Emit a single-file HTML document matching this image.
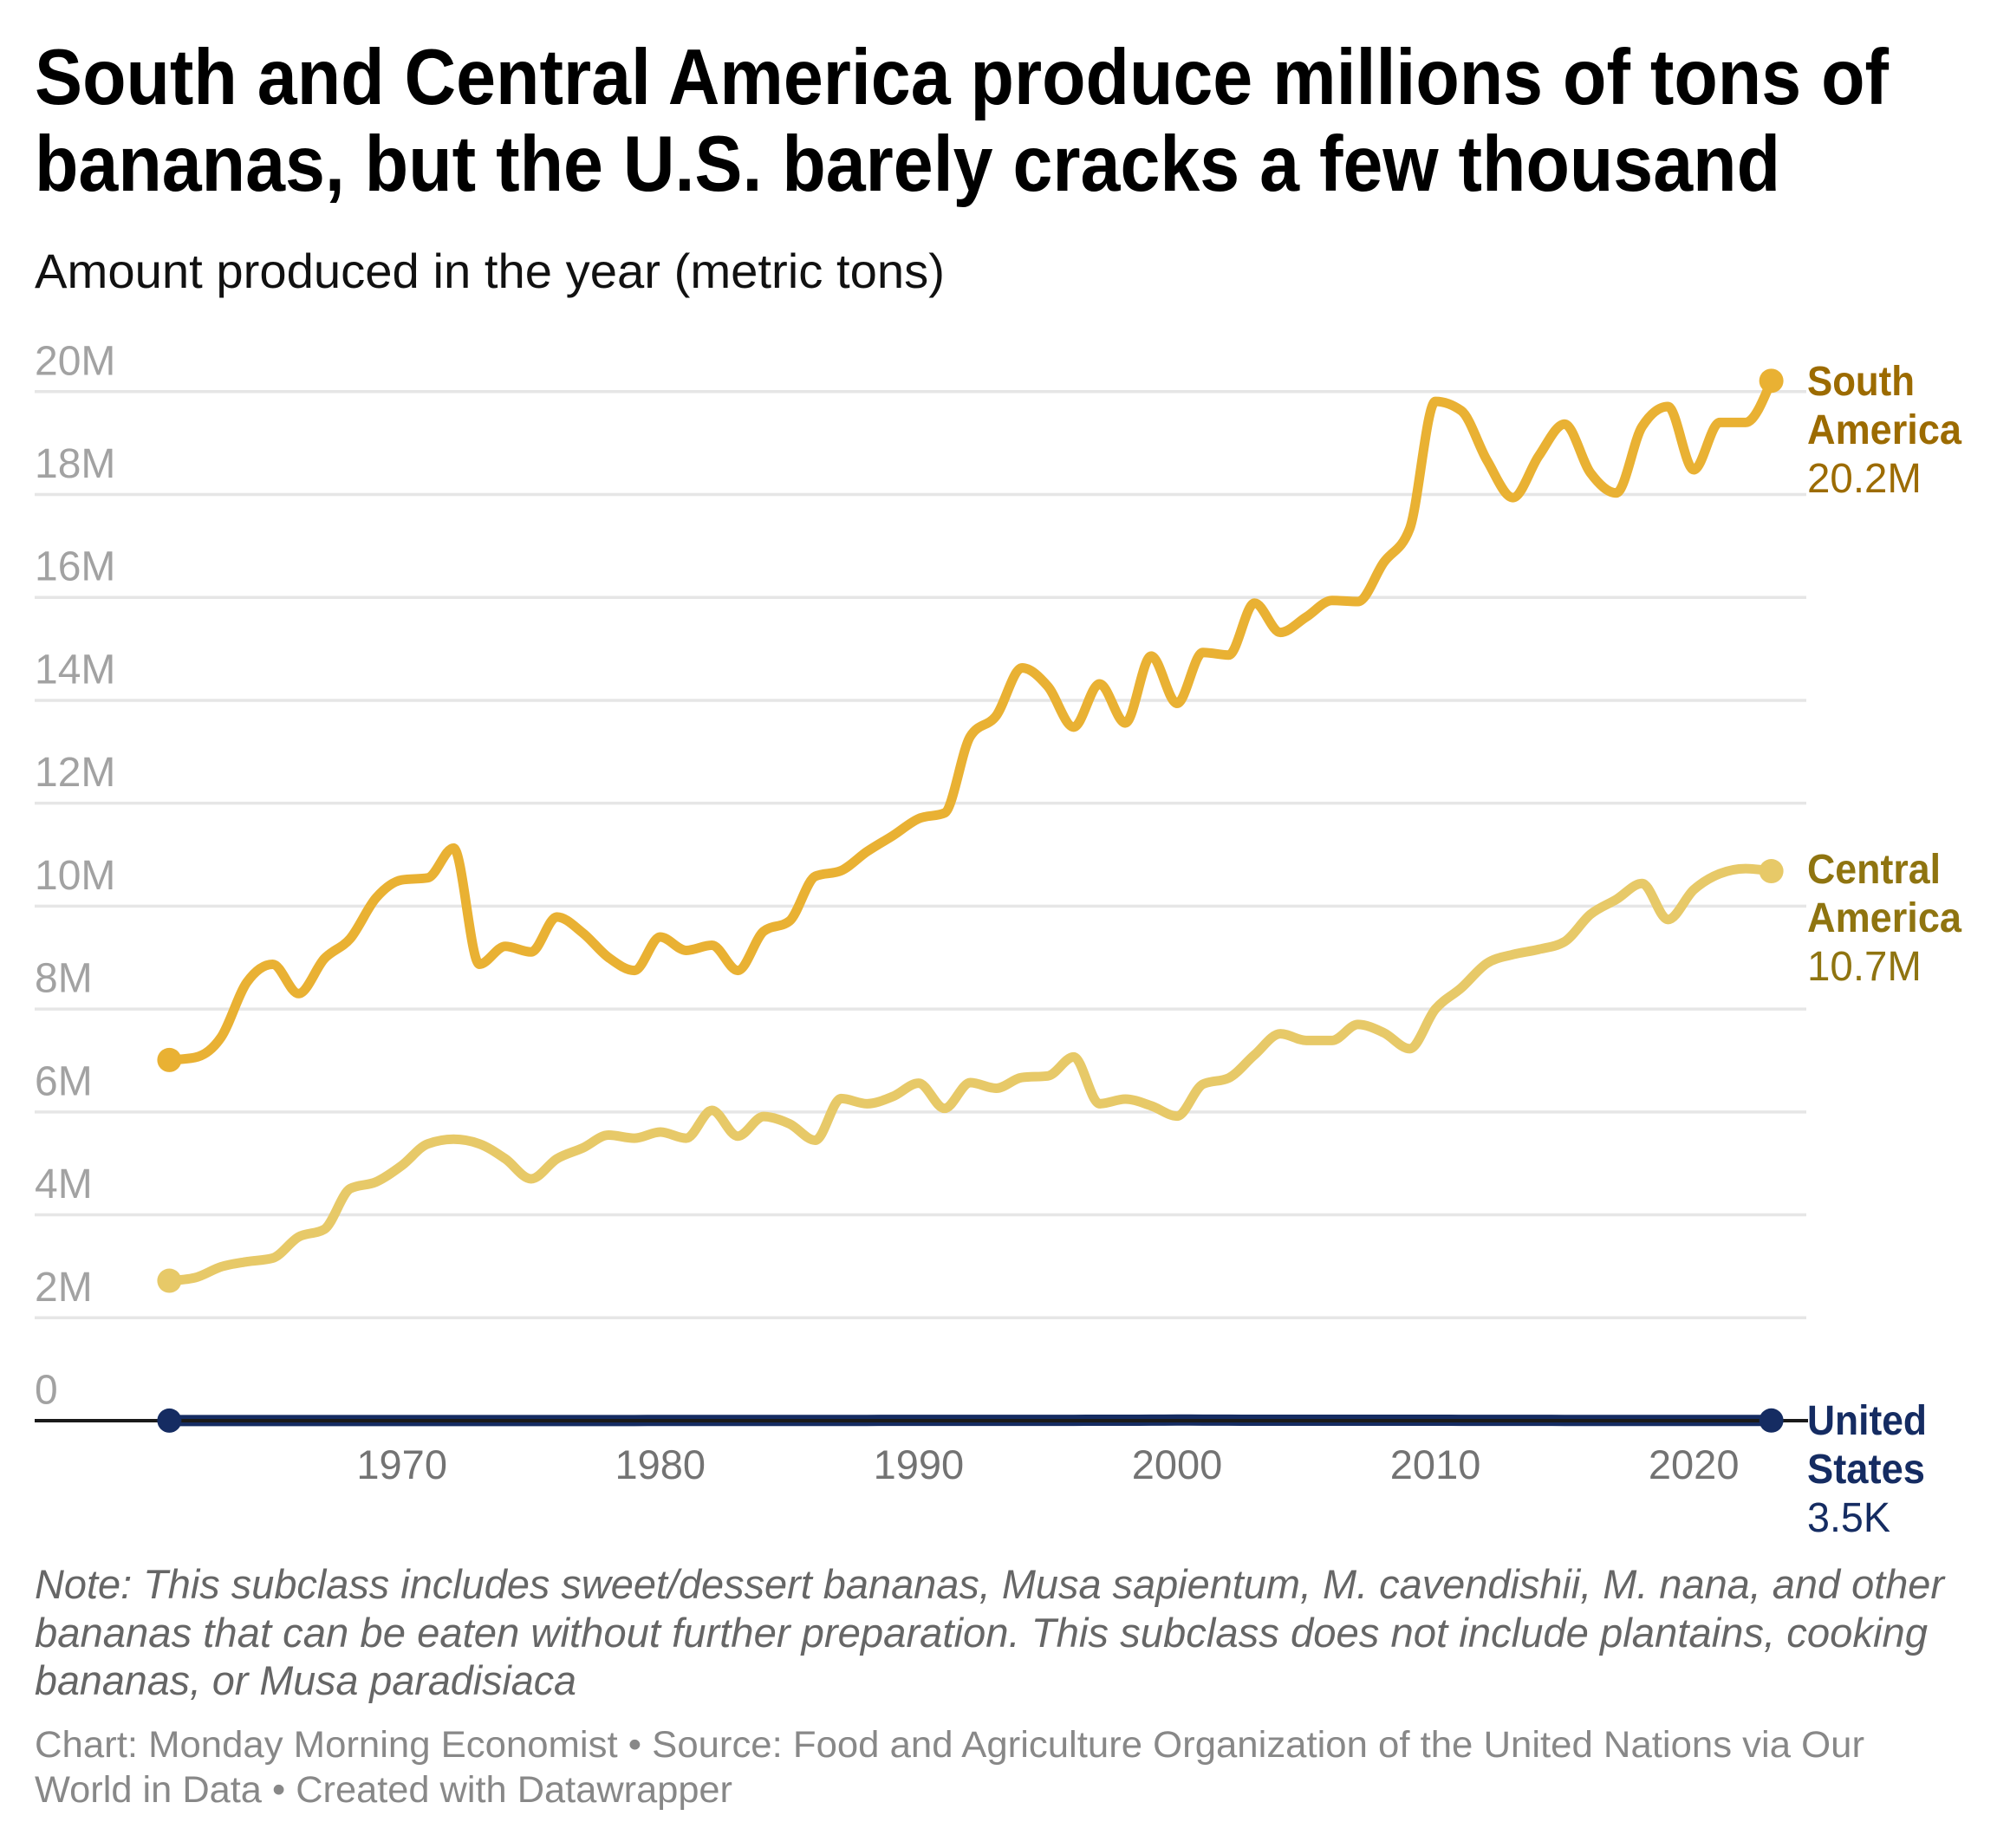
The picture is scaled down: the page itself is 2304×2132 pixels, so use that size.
<!DOCTYPE html>
<html lang="en">
<head>
<meta charset="utf-8">
<title>South and Central America banana production</title>
<style>
html,body{margin:0;padding:0;background:#fff;}
body{width:2304px;height:2132px;overflow:hidden;}
svg{display:block;font-family:"Liberation Sans",sans-serif;}
</style>
</head>
<body>
<svg id="chart" xmlns="http://www.w3.org/2000/svg" width="2304" height="2132" viewBox="0 0 2304 2132">
  <rect width="2304" height="2132" fill="#fff"/>
  <text x="40" y="120" font-size="91" font-weight="700" fill="#000" textLength="2139" lengthAdjust="spacingAndGlyphs">South and Central America produce millions of tons of</text>
  <text x="40" y="220" font-size="91" font-weight="700" fill="#000" textLength="2014" lengthAdjust="spacingAndGlyphs">bananas, but the U.S. barely cracks a few thousand</text>
  <text x="40" y="332" font-size="56" fill="#111" textLength="1050" lengthAdjust="spacingAndGlyphs">Amount produced in the year (metric tons)</text>

  <g id="grid"></g>
  <g id="yticks"></g>
  <g id="xticks"></g>
  <g id="lines"></g>
  <line x1="40" x2="2086" y1="1639" y2="1639" stroke="#1a1a1a" stroke-width="4"/>
  <g id="dots"></g>

  <g fill="#9c6b00" font-size="48">
    <text x="2085" y="456" font-weight="700" textLength="124" lengthAdjust="spacingAndGlyphs">South</text>
    <text x="2085" y="512" font-weight="700" textLength="178" lengthAdjust="spacingAndGlyphs">America</text>
    <text x="2085" y="568" textLength="132" lengthAdjust="spacingAndGlyphs">20.2M</text>
  </g>
  <g fill="#8f7410" font-size="48">
    <text x="2085" y="1019" font-weight="700" textLength="154" lengthAdjust="spacingAndGlyphs">Central</text>
    <text x="2085" y="1075" font-weight="700" textLength="178" lengthAdjust="spacingAndGlyphs">America</text>
    <text x="2085" y="1131" textLength="132" lengthAdjust="spacingAndGlyphs">10.7M</text>
  </g>
  <g fill="#152c62" font-size="48">
    <text x="2085" y="1655" font-weight="700" textLength="138" lengthAdjust="spacingAndGlyphs">United</text>
    <text x="2085" y="1711" font-weight="700" textLength="136" lengthAdjust="spacingAndGlyphs">States</text>
    <text x="2085" y="1767" textLength="96" lengthAdjust="spacingAndGlyphs">3.5K</text>
  </g>

  <g fill="#666" font-size="47" font-style="italic">
    <text x="40" y="1844" textLength="2203" lengthAdjust="spacingAndGlyphs">Note: This subclass includes sweet/dessert bananas, Musa sapientum, M. cavendishii, M. nana, and other</text>
    <text x="40" y="1900" textLength="2184" lengthAdjust="spacingAndGlyphs">bananas that can be eaten without further preparation. This subclass does not include plantains, cooking</text>
    <text x="40" y="1955" textLength="625" lengthAdjust="spacingAndGlyphs">bananas, or Musa paradisiaca</text>
  </g>
  <g fill="#888" font-size="43">
    <text x="40" y="2027" textLength="2111" lengthAdjust="spacingAndGlyphs">Chart: Monday Morning Economist • Source: Food and Agriculture Organization of the United Nations via Our</text>
    <text x="40" y="2079" textLength="805" lengthAdjust="spacingAndGlyphs">World in Data • Created with Datawrapper</text>
  </g>
</svg>
<script>
const years = [1961,1962,1963,1964,1965,1966,1967,1968,1969,1970,1971,1972,1973,1974,1975,1976,1977,1978,1979,1980,1981,1982,1983,1984,1985,1986,1987,1988,1989,1990,1991,1992,1993,1994,1995,1996,1997,1998,1999,2000,2001,2002,2003,2004,2005,2006,2007,2008,2009,2010,2011,2012,2013,2014,2015,2016,2017,2018,2019,2020,2021,2022,2023];
const southAmerica = [7.01,7.06,7.45,8.52,8.87,8.30,8.98,9.37,10.16,10.51,10.55,11.13,8.87,9.22,9.11,9.79,9.48,9.00,8.75,9.40,9.14,9.24,8.75,9.51,9.71,10.58,10.69,11.06,11.37,11.70,11.81,13.30,13.70,14.63,14.27,13.48,14.32,13.56,14.86,13.94,14.93,14.88,15.89,15.32,15.62,15.94,15.92,16.68,17.33,19.81,19.63,18.66,17.94,18.75,19.37,18.42,18.03,19.32,19.71,18.48,19.40,19.40,20.21];
const centralAmerica = [2.72,2.78,2.99,3.09,3.16,3.57,3.72,4.51,4.64,4.96,5.38,5.47,5.38,5.09,4.70,5.09,5.30,5.55,5.49,5.61,5.49,6.03,5.53,5.91,5.77,5.45,6.26,6.16,6.30,6.56,6.07,6.57,6.46,6.67,6.70,7.07,6.16,6.25,6.12,5.92,6.54,6.66,7.11,7.52,7.39,7.39,7.70,7.54,7.23,8.00,8.41,8.89,9.06,9.16,9.31,9.84,10.13,10.44,9.74,10.32,10.63,10.73,10.68];
const unitedStates = [0.002,0.002,0.002,0.003,0.003,0.003,0.002,0.002,0.002,0.002,0.002,0.002,0.002,0.003,0.003,0.003,0.003,0.003,0.003,0.004,0.004,0.004,0.005,0.005,0.005,0.005,0.005,0.005,0.006,0.006,0.006,0.006,0.006,0.006,0.006,0.007,0.008,0.009,0.010,0.012,0.011,0.010,0.009,0.009,0.008,0.008,0.009,0.009,0.008,0.008,0.007,0.007,0.006,0.006,0.005,0.005,0.005,0.004,0.004,0.004,0.004,0.004,0.0035];
const yTickValues = [0,2,4,6,8,10,12,14,16,18,20];
const yTickLabels = ["0","2M","4M","6M","8M","10M","12M","14M","16M","18M","20M"];
const xTickValues = [1970,1980,1990,2000,2010,2020];
const xTickLabels = ["1970","1980","1990","2000","2010","2020"];

const NS = "http://www.w3.org/2000/svg";
function xScale(year){ return 195.4 + (year - 1961) * 29.81; }
function yScale(v){ return 1639 - v * 59.36; }

function sign(x){ return x < 0 ? -1 : 1; }
function monotonePath(xs, ys){
  const n = xs.length, t = new Array(n), h = [], s = [];
  for (let i = 0; i < n - 1; i++){
    h[i] = xs[i+1] - xs[i];
    s[i] = (ys[i+1] - ys[i]) / h[i];
  }
  for (let i = 1; i < n - 1; i++){
    const p = (s[i-1] * h[i] + s[i] * h[i-1]) / (h[i-1] + h[i]);
    t[i] = (sign(s[i-1]) + sign(s[i])) * Math.min(Math.abs(s[i-1]), Math.abs(s[i]), 0.5 * Math.abs(p)) || 0;
  }
  t[0] = (3 * s[0] - t[1]) / 2;
  t[n-1] = (3 * s[n-2] - t[n-2]) / 2;
  let d = "M" + xs[0].toFixed(2) + "," + ys[0].toFixed(2);
  for (let i = 0; i < n - 1; i++){
    const dx = h[i] / 3;
    d += "C" + (xs[i] + dx).toFixed(2) + "," + (ys[i] + dx * t[i]).toFixed(2) + " " +
         (xs[i+1] - dx).toFixed(2) + "," + (ys[i+1] - dx * t[i+1]).toFixed(2) + " " +
         xs[i+1].toFixed(2) + "," + ys[i+1].toFixed(2);
  }
  return d;
}

const grid = document.getElementById("grid");
const yticks = document.getElementById("yticks");
yTickValues.forEach(function(v, i){
  if (v !== 0) {
    const ln = document.createElementNS(NS, "line");
    
    
    ln.setAttribute("x1", 40);
    ln.setAttribute("x2", 2084);
    ln.setAttribute("y1", yScale(v));
    ln.setAttribute("y2", yScale(v));
    ln.setAttribute("stroke", "#e6e6e6");
    ln.setAttribute("stroke-width", "3.5");
    grid.appendChild(ln);
  }
  const tx = document.createElementNS(NS, "text");
  
  
  tx.setAttribute("x", 40);
  tx.setAttribute("y", yScale(v) - 19.5);
  tx.setAttribute("font-size", "48");
  tx.setAttribute("fill", "#a2a2a2");
  tx.textContent = yTickLabels[i];
  yticks.appendChild(tx);
});

const xticks = document.getElementById("xticks");
xTickValues.forEach(function(v, i){
  const tx = document.createElementNS(NS, "text");
  
  
  tx.setAttribute("x", xScale(v));
  tx.setAttribute("y", 1706);
  tx.setAttribute("font-size", "47");
  tx.setAttribute("fill", "#737373");
  tx.setAttribute("text-anchor", "middle");
  tx.textContent = xTickLabels[i];
  xticks.appendChild(tx);
});

const lines = document.getElementById("lines");
const dots = document.getElementById("dots");
function drawSeries(values, color, width, name){
  const xs = years.map(xScale), ys = values.map(yScale);
  const p = document.createElementNS(NS, "path");
  
  
  p.setAttribute("data-series", name);
  p.setAttribute("d", monotonePath(xs, ys));
  p.setAttribute("fill", "none");
  p.setAttribute("stroke", color);
  p.setAttribute("stroke-width", width);
  p.setAttribute("stroke-linejoin", "round");
  p.setAttribute("stroke-linecap", "round");
  lines.appendChild(p);
  [0, values.length - 1].forEach(function(i){
    const c = document.createElementNS(NS, "circle");
    
    
    c.setAttribute("data-series", name);
    c.setAttribute("cx", xs[i]);
    c.setAttribute("cy", ys[i]);
    c.setAttribute("r", 14);
    c.setAttribute("fill", color);
    dots.appendChild(c);
  });
}
drawSeries(centralAmerica, "#e7c968", 11, "central-america");
drawSeries(southAmerica, "#e9b133", 11, "south-america");
drawSeries(unitedStates, "#152c62", 13, "united-states");
</script>
</body>
</html>
